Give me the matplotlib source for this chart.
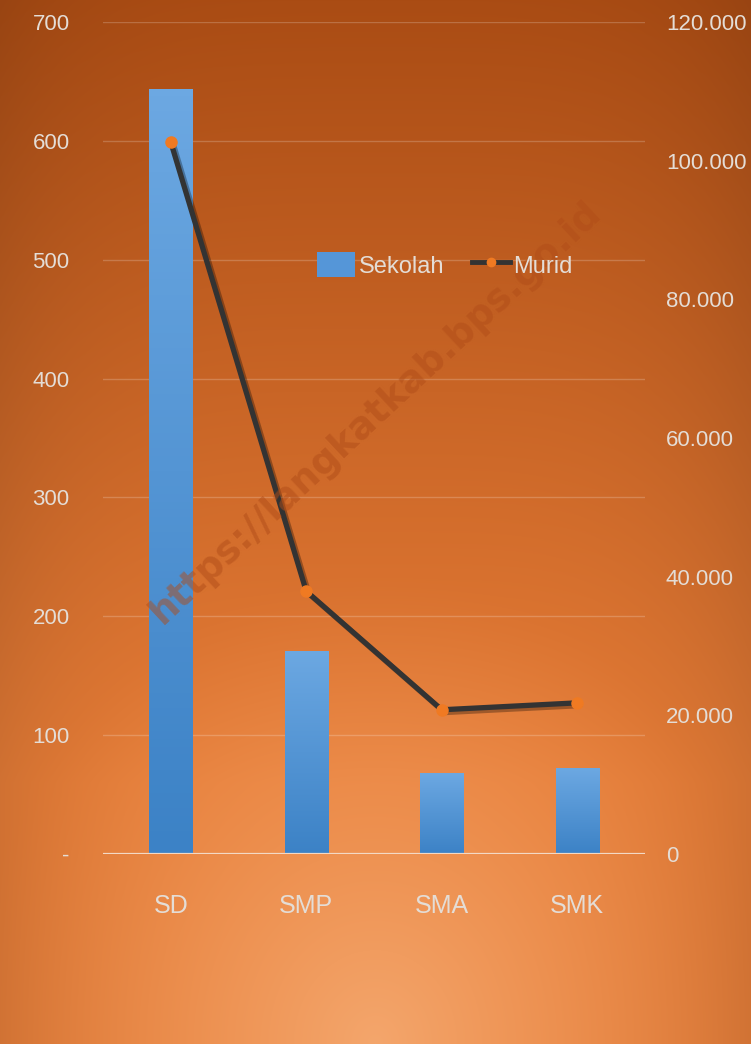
import numpy as np
import matplotlib
matplotlib.use("Agg")
import matplotlib.pyplot as plt
from matplotlib.patches import Patch
from matplotlib.lines import Line2D
import matplotlib.patheffects as pe

# Data
kategori = ["SD", "SMP", "SMA", "SMK"]
sekolah = [644, 171, 68, 72]
murid = [102700, 37900, 20800, 21800]

plt.rcParams['font.family'] = ['Liberation Sans', 'DejaVu Sans']
txt_col = '#e4ddd6'

W, H = 751, 1044
fig = plt.figure(figsize=(W / 100, H / 100), dpi=100)

# Orange gradient background
yy, xx = np.mgrid[0:1:H * 1j, 0:1:W * 1j]
top = np.array([170, 76, 20]) / 255
mid = np.array([232, 126, 56]) / 255
glow = np.array([244, 166, 108]) / 255
t = np.clip(yy / 0.75, 0, 1)[..., None]
bg = top * (1 - t) + mid * t
r = np.sqrt(((xx - 0.5) / 0.55) ** 2 + ((yy - 1.0) / 0.45) ** 2)
g = np.clip(1 - r, 0, 1)[..., None] ** 1.3
bg = bg * (1 - g) + glow * g
edge = (np.abs(xx - 0.5) * 2) ** 4
bg = bg * (1 - 0.10 * edge[..., None])
bax = fig.add_axes([0, 0, 1, 1], zorder=-5)
bax.imshow(bg, aspect='auto', extent=[0, 1, 0, 1])
bax.axis('off')

ax = fig.add_axes([103 / W, 1 - 854 / H, 542 / W, 832 / H])
ax.patch.set_alpha(0)
x = np.arange(len(kategori))
bars = ax.bar(x, sekolah, width=0.32, color='#5596d8', zorder=2)
grad = np.linspace(0, 1, 100)[:, None]
c_top = np.array([108, 168, 226]) / 255
c_bot = np.array([60, 130, 198]) / 255
gimg = (c_top * (1 - grad)[..., None] + c_bot * grad[..., None])
for b in bars:
    im = ax.imshow(gimg, aspect='auto', zorder=2.1,
                   extent=[b.get_x(), b.get_x() + b.get_width(), 0, b.get_height()])
    im.set_clip_path(b)

ax.set_xlim(-0.5, 3.5)
ax.set_ylim(0, 700)
ax.set_yticks(range(0, 701, 100))
ax.set_yticklabels(['-'] + [str(v) for v in range(100, 701, 100)])
ax.set_xticks(x)
ax.set_xticklabels(kategori)
ax.tick_params(axis='y', length=0, pad=24, labelsize=16, labelcolor=txt_col)
ax.tick_params(axis='x', length=0, pad=29, labelsize=18, labelcolor=txt_col)
ax.grid(axis='y', color='white', alpha=0.2, lw=1)
ax.set_axisbelow(True)
ax.axhline(0, color='#f3d9c5', lw=1.6, zorder=3)
for s in ax.spines.values():
    s.set_visible(False)

ax2 = ax.twinx()
ax2.set_ylim(0, 120000)
ax2.set_yticks(range(0, 120001, 20000))
ax2.set_yticklabels(['0'] + ['{:,}'.format(v).replace(',', '.') for v in range(20000, 120001, 20000)])
ax2.tick_params(axis='y', length=0, pad=15, labelsize=16, labelcolor=txt_col)
for s in ax2.spines.values():
    s.set_visible(False)
ax2.plot(x, murid, color='#333333', lw=3.8, zorder=4, solid_capstyle='round',
         path_effects=[pe.SimpleLineShadow(offset=(2, -2), alpha=0.3), pe.Normal()])
ax2.plot(x, murid, ls='none', marker='o', ms=8, mfc='#f07a22', mec='#f07a22', zorder=5)

handles = [Patch(facecolor='#5596d8', edgecolor='none'),
           Line2D([0], [0], color='#333333', lw=3.5, marker='o', ms=6,
                  mfc='#f07a22', mec='#f07a22')]
fig.legend(handles, ['Sekolah', 'Murid'], loc='center', bbox_to_anchor=(445 / W, 1 - 265 / H),
           ncol=2, frameon=False, fontsize=17, labelcolor=txt_col, handlelength=1.6,
           handleheight=1.2, handletextpad=0.15, columnspacing=1.2)

fig.text(0.5, 0.605, 'https://langkatkab.bps.go.id', rotation=43, ha='center', va='center',
         rotation_mode='anchor', fontsize=27, fontweight='bold', color='#b04c18', alpha=0.5,
         family=['DejaVu Sans'])

fig.savefig('out.png', dpi=100)
